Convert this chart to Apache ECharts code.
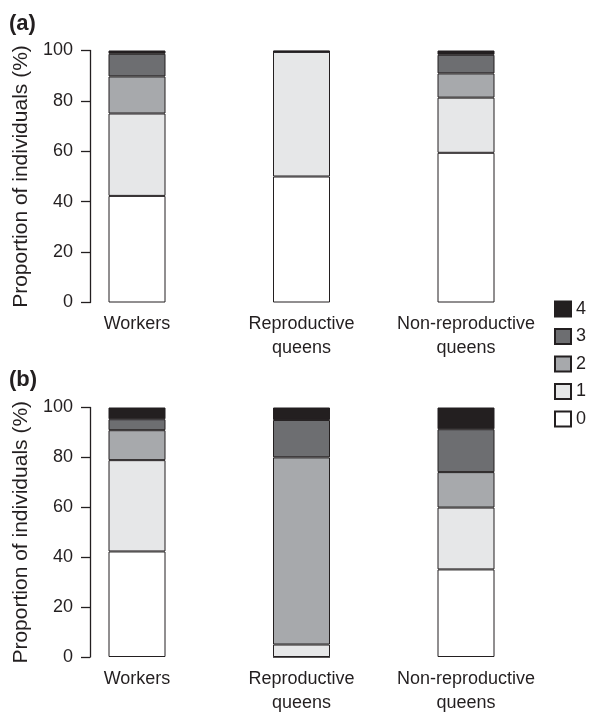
<!DOCTYPE html>
<html>
<head>
<meta charset="utf-8">
<script src="https://cdn.jsdelivr.net/npm/echarts@6/dist/echarts.min.js"></script>
<style>
  html, body { margin: 0; padding: 0; background: #fff; }
  #chart { width: 590px; height: 715px; }
</style>
</head>
<body>
<div id="chart"></div>
<script>
// Castes on the x axis
const categories = ['Workers', 'Reproductive\nqueens', 'Non-reproductive\nqueens'];
// Score classes (stack order, bottom to top)
const scores = ['0', '1', '2', '3', '4'];
const yTicks = [0, 20, 40, 60, 80, 100];

// Panel (a): proportion of individuals (%) per score
const a0 = [42.3, 50.0, 59.4];
const a1 = [32.7, 49.5, 21.9];
const a2 = [14.7, 0, 9.6];
const a3 = [9.0, 0, 7.4];
const a4 = [1.3, 0.5, 1.7];

// Panel (b): proportion of individuals (%) per score
const b0 = [42.3, 0, 35.1];
const b1 = [36.6, 5.0, 24.8];
const b2 = [12.0, 75.0, 14.2];
const b3 = [4.4, 15.0, 17.2];
const b4 = [4.7, 5.0, 8.7];

const panelA = [a0, a1, a2, a3, a4];
const panelB = [b0, b1, b2, b3, b4];

const fills = ['#ffffff', '#e6e7e8', '#a7a9ac', '#6d6e71', '#231f20'];
const ink = '#231f20';
const font = '"Liberation Sans", Arial, sans-serif';

function makeSeries(values, idx) {
  return values.map((arr, i) => ({
    name: scores[i],
    type: 'bar',
    stack: 'p' + idx,
    xAxisIndex: idx,
    yAxisIndex: idx,
    barWidth: 57,
    clip: false,
    data: arr,
    itemStyle: { color: fills[i], borderColor: ink, borderWidth: 1 },
    emphasis: { disabled: true }
  }));
}

function xAxis(idx) {
  return {
    type: 'category',
    gridIndex: idx,
    data: categories,
    boundaryGap: false,
    axisLine: { show: false },
    axisTick: { show: false },
    axisLabel: {
      interval: 0, margin: 10, fontSize: 18, lineHeight: 24,
      color: ink, fontFamily: font
    }
  };
}

function yAxis(idx) {
  return {
    type: 'value',
    gridIndex: idx,
    min: yTicks[0], max: yTicks[yTicks.length - 1], interval: 20,
    offset: 47,
    name: 'Proportion of individuals (%)',
    nameLocation: 'middle',
    nameGap: 55,
    nameTextStyle: { fontSize: 21, color: ink, fontFamily: font },
    axisLine: { show: true, lineStyle: { color: ink, width: 1.3 } },
    axisTick: { show: true, length: 9, lineStyle: { color: ink, width: 1.3 } },
    splitLine: { show: false },
    axisLabel: { fontSize: 18, color: ink, margin: 17, fontFamily: font }
  };
}

const chart = echarts.init(document.getElementById('chart'), null, { renderer: 'canvas' });
chart.setOption({
  animation: false,
  backgroundColor: '#ffffff',
  textStyle: { fontFamily: font },
  title: [
    { text: '(a)', left: 4, top: 8, textStyle: { fontSize: 22, fontWeight: 'bold', color: ink, fontFamily: font } },
    { text: '(b)', left: 4, top: 364, textStyle: { fontSize: 22, fontWeight: 'bold', color: ink, fontFamily: font } }
  ],
  legend: {
    orient: 'vertical',
    left: 554, top: 300,
    padding: 0,
    data: scores.slice().reverse(),
    icon: 'rect',
    itemWidth: 16, itemHeight: 15, itemGap: 9.5,
    selectedMode: false,
    textStyle: { fontSize: 18, color: ink, lineHeight: 15, fontFamily: font }
  },
  grid: [
    { left: 137, right: 124, top: 50.5, height: 252 },
    { left: 137, right: 124, top: 407.5, height: 256 }
  ],
  xAxis: [xAxis(0), xAxis(1)],
  yAxis: [yAxis(0), yAxis(1)],
  series: makeSeries(panelA, 0).concat(makeSeries(panelB, 1))
});
</script>
</body>
</html>
